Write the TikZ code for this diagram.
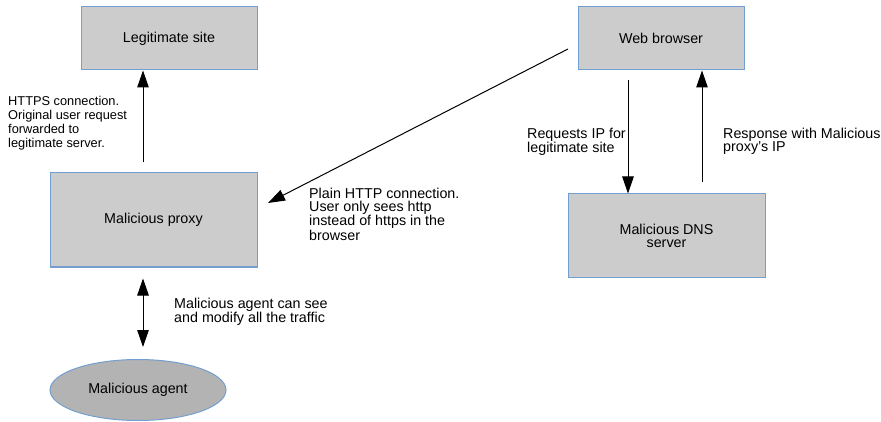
\documentclass[tikz,border=0pt]{standalone}
\usepackage{fontspec}
\setmainfont{Liberation Sans}
\usetikzlibrary{shapes.geometric,arrows.meta}
\definecolor{boxfill}{HTML}{CCCCCC}
\definecolor{boxdraw}{HTML}{729FCF}
\definecolor{agentfill}{HTML}{B3B3B3}
\begin{document}
\begin{tikzpicture}[x=1pt,y=-1pt,
 box/.style={draw=boxdraw, fill=boxfill, line width=1pt, inner sep=0pt, align=center, font=\fontsize{14.3}{13}\selectfont},
 lbl/.style={anchor=north west, inner sep=0pt, align=left, font=\fontsize{14.3}{13}\selectfont},
 arr/.style={line width=1pt, -{Triangle[length=17pt,width=11.5pt]}},
 darr/.style={line width=1pt, {Triangle[length=17pt,width=11.5pt]}-{Triangle[length=17pt,width=11.5pt]}}]
\useasboundingbox (0,0) rectangle (881,422);
\node[box, minimum width=176, minimum height=63] (legit) at (169,38.5) {Legitimate site};
\node[box, minimum width=207, minimum height=94] (proxy) at (153.5,220) {Malicious proxy};
\node[box, minimum width=166, minimum height=63] (web) at (661,38.5) {Web browser};
\node[box, minimum width=197, minimum height=83] (dns) at (666.5,235.5) {Malicious DNS\\server};
\node[box, ellipse, fill=agentfill, minimum width=176, minimum height=61] (agent) at (138,390) {Malicious agent};
\coordinate (a1) at (143,0);
\coordinate (a2) at (628,0);
\coordinate (a3) at (702,0);
\coordinate (d1) at (568,49);
\coordinate (d2) at (268,203);
\draw[arr, shorten <=10pt] (proxy.north -| a1) -- (legit.south -| a1);
\draw[darr, shorten <=11pt, shorten >=12pt] (proxy.south -| a1) -- (agent.north -| a1);
\draw[arr, shorten <=10pt] (web.south -| a2) -- (dns.north -| a2);
\draw[arr, shorten <=11pt] (dns.north -| a3) -- (web.south -| a3);
\draw[arr] (d1) -- (d2);
\node[lbl, font=\fontsize{12.8}{13.9}\selectfont] (t1) at (8,96.5) {HTTPS connection.\\Original user request\\forwarded to\\legitimate server.};
\node[lbl] (t2) at (309,188) {Plain HTTP connection.\\User only sees http\\instead of https in the\\browser};
\node[lbl] (t3) at (174,298) {Malicious agent can see\\and modify all the traffic};
\node[lbl] (t4) at (527,128) {Requests IP for\\legitimate site};
\node[lbl] (t5) at (723,128) {Response with Malicious\\proxy’s IP};
\end{tikzpicture}
\end{document}
